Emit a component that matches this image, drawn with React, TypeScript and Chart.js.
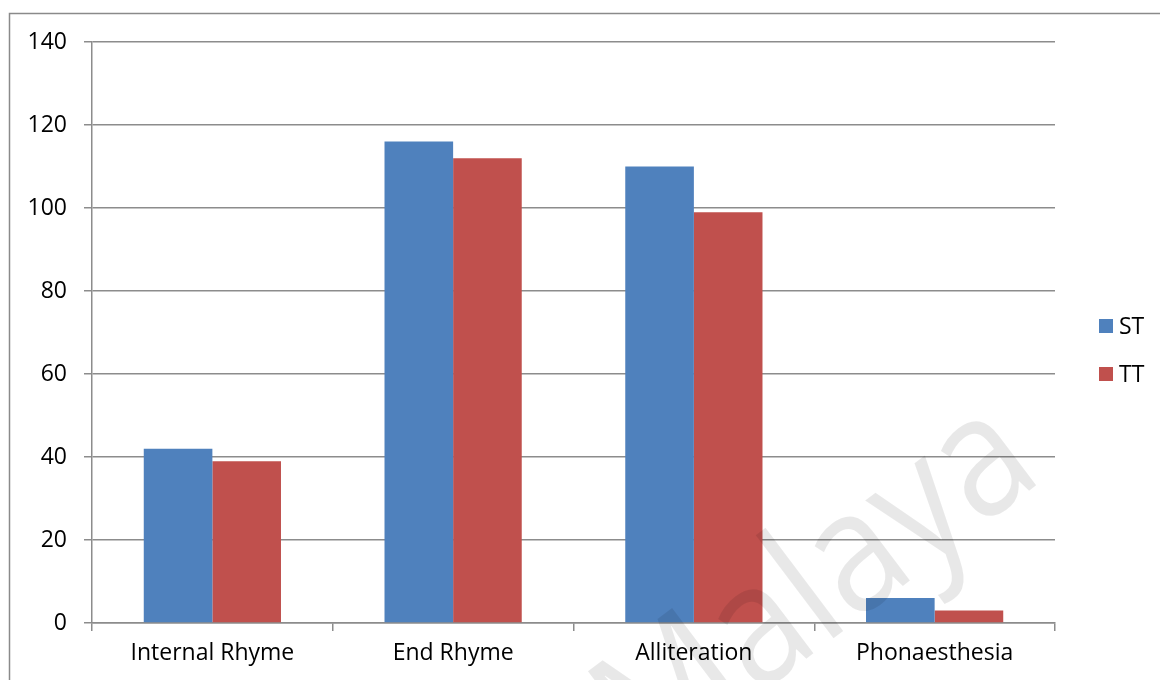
import { useEffect, useRef } from "react";
import { Chart, registerables } from "chart.js";

Chart.register(...registerables);

const categories = ["Internal Rhyme", "End Rhyme", "Alliteration", "Phonaesthesia"];
const stValues = [42, 116, 110, 6];
const ttValues = [39, 112, 99, 3];
const seriesNames = ["ST", "TT"];
const seriesColors = ["#4F81BD", "#C0504D"];
const yMin = 0;
const yMax = 140;
const yStep = 20;
const watermarkText = "Malaya";

const FONT = "'Open Sans', 'Liberation Sans', sans-serif";
const GRID = "#8c8c8c";

const decorPlugin = {
  id: "decor",
  beforeDraw(chart: any) {
    const ctx = chart.ctx;
    ctx.save();
    ctx.strokeStyle = "#8a8a8a";
    ctx.lineWidth = 1.5;
    ctx.beginPath();
    ctx.moveTo(9.5, chart.height);
    ctx.lineTo(9.5, 13.5);
    ctx.lineTo(chart.width, 13.5);
    ctx.stroke();
    ctx.restore();
  },
  afterDraw(chart: any) {
    const ctx = chart.ctx;
    ctx.save();
    // legend
    const ds = chart.data.datasets;
    const ys = [326, 374];
    ctx.font = `23px ${FONT}`;
    ctx.textBaseline = "middle";
    ctx.textAlign = "left";
    ds.forEach((d: any, i: number) => {
      ctx.fillStyle = d.backgroundColor;
      ctx.fillRect(1099, ys[i] - 7, 14, 14);
      ctx.fillStyle = "#000";
      ctx.fillText(d.label, 1119, ys[i] + 1);
    });
    // watermark
    ctx.translate(1046, 478);
    ctx.rotate((-37 * Math.PI) / 180);
    ctx.scale(0.88, 1);
    ctx.font = `170px ${FONT}`;
    ctx.textAlign = "right";
    ctx.textBaseline = "alphabetic";
    ctx.fillStyle = "rgba(0,0,0,0.09)";
    ctx.fillText(watermarkText, 0, 0);
    ctx.restore();
  },
};

export default function App() {
  const ref = useRef<HTMLCanvasElement | null>(null);

  useEffect(() => {
    if (!ref.current) return;
    const chart = new Chart(ref.current, {
      type: "bar",
      data: {
        labels: categories,
        datasets: [
          { label: seriesNames[0], data: stValues, backgroundColor: seriesColors[0] },
          { label: seriesNames[1], data: ttValues, backgroundColor: seriesColors[1] },
        ],
      },
      options: {
        animation: false,
        responsive: true,
        maintainAspectRatio: false,
        layout: { padding: { left: 0, top: 42, right: 105, bottom: 0 } },
        datasets: { bar: { barPercentage: 1, categoryPercentage: 0.57 } },
        plugins: {
          legend: { display: false },
          tooltip: { enabled: false },
        },
        scales: {
          x: {
            afterFit: (s: any) => {
              s.height = 57;
            },
            grid: {
              display: true,
              drawOnChartArea: false,
              drawTicks: true,
              tickLength: 8,
              offset: true,
              color: GRID,
              lineWidth: 1.5,
            },
            border: { display: true, color: GRID, width: 1.5 },
            ticks: {
              color: "#000",
              font: { family: FONT, size: 23 },
              padding: 9,
              maxRotation: 0,
            },
          },
          y: {
            min: yMin,
            max: yMax,
            afterFit: (s: any) => {
              s.width = 92;
            },
            grid: {
              color: GRID,
              lineWidth: 1.5,
              tickLength: 8,
            },
            border: { display: true, color: GRID, width: 1.5 },
            ticks: {
              stepSize: yStep,
              color: "#000",
              font: { family: FONT, size: 23 },
              padding: 17,
            },
          },
        },
      },
      plugins: [decorPlugin],
    });
    return () => chart.destroy();
  }, []);

  return (
    <div style={{ position: "fixed", left: 0, top: 0, width: 1160, height: 680, background: "#fff" }}>
      <canvas ref={ref} />
    </div>
  );
}
